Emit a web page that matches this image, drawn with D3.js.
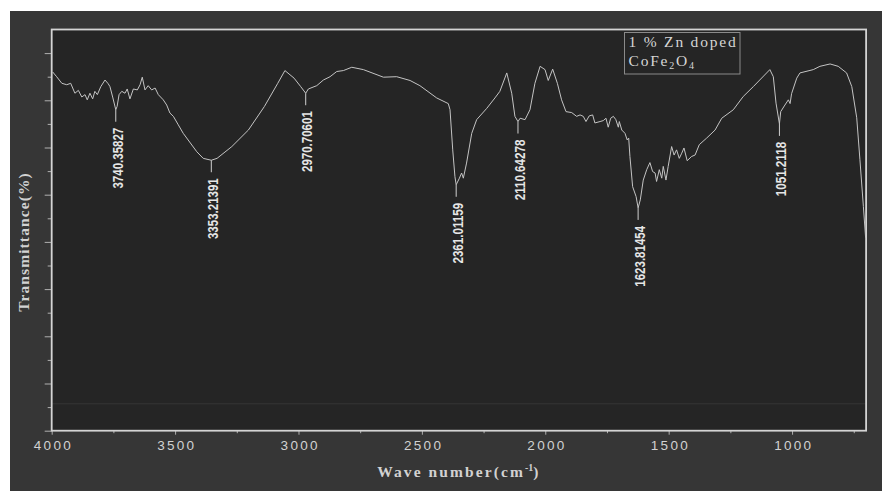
<!DOCTYPE html>
<html>
<head>
<meta charset="utf-8">
<script src="https://cdn.jsdelivr.net/npm/d3@7/dist/d3.min.js"></script>
<style>
    body { margin: 0; background: #ffffff; }
    svg { display: block; }
</style>
</head>
<body>
<div id="chartDiv"></div>
<script>

// FTIR spectrum, 1 % Zn doped CoFe2O4
var wavenumber = [3996, 3980, 3959, 3939, 3923, 3906, 3892, 3878, 3865, 3856, 3845, 3834, 3825, 3815, 3801, 3784,
    3771, 3764, 3752, 3740.36, 3735, 3727, 3716, 3703, 3694, 3683, 3669, 3653, 3642, 3633, 3622, 3609, 3595, 3581,
    3568, 3548, 3534, 3521, 3507, 3487, 3467, 3412, 3386, 3353.21, 3330, 3270, 3203, 3138, 3084, 3055, 3018, 2991,
    2970.71, 2960, 2926, 2899, 2872, 2845, 2818, 2784, 2737, 2656, 2602, 2548, 2508, 2440, 2393, 2386, 2375, 2366,
    2361.01, 2348, 2339, 2332, 2319, 2298, 2278, 2237, 2204, 2184, 2156, 2136, 2123, 2110.64, 2102, 2082, 2062, 2042,
    2021, 2001, 1988, 1970, 1951, 1934, 1916, 1893, 1873, 1859, 1846, 1835, 1822, 1808, 1799, 1778, 1765, 1754, 1745,
    1735, 1724, 1714, 1704, 1700, 1690, 1677, 1668, 1662, 1657, 1646, 1632, 1623.81, 1615, 1603, 1589, 1576, 1565,
    1555, 1549, 1538, 1528, 1522, 1511, 1502, 1488, 1478, 1468, 1457, 1447, 1438, 1425, 1407, 1393, 1376, 1346, 1312,
    1285, 1238, 1198, 1157, 1090, 1076, 1065, 1051.21, 1046, 1029, 1015, 1008, 1002, 981, 968, 914, 887, 846, 813,
    779, 758, 738, 725, 711, 702];

var transmittance = [76.0, 75.0, 73.6, 73.3, 73.6, 71.5, 72.1, 70.7, 71.2, 70.1, 71.5, 70.3, 71.9, 71.2, 72.9, 74.3,
    73.5, 72.9, 70.5, 68.0, 68.7, 71.2, 71.9, 71.5, 72.4, 70.3, 72.4, 72.2, 73.3, 74.9, 72.2, 73.1, 72.2, 72.6,
    71.2, 70.1, 69.0, 67.3, 66.6, 64.8, 63.0, 59.1, 57.7, 57.3, 57.7, 60.2, 63.7, 68.7, 73.6, 76.3, 74.7, 72.9,
    71.5, 72.4, 73.1, 74.3, 75.0, 76.1, 76.3, 77.0, 76.5, 74.9, 75.0, 74.2, 73.1, 70.5, 69.3, 68.0, 59.5, 53.8,
    52.1, 53.5, 54.6, 53.5, 56.7, 63.0, 65.9, 68.3, 70.5, 71.9, 75.8, 71.5, 66.6, 65.5, 66.2, 65.9, 68.0, 73.6,
    77.2, 76.5, 74.2, 76.6, 73.6, 70.1, 67.6, 67.4, 66.6, 66.9, 66.6, 65.5, 66.7, 66.9, 65.2, 65.5, 65.7, 66.2, 64.3,
    66.2, 66.6, 65.9, 64.3, 65.5, 63.7, 63.0, 61.6, 62.0, 58.1, 51.7, 49.6, 47.2, 48.9, 53.1, 55.3, 56.8, 54.9,
    54.6, 52.8, 55.3, 53.5, 56.0, 53.1, 56.0, 60.2, 58.4, 59.5, 57.7, 58.8, 59.9, 57.2, 58.1, 58.4, 60.6, 62.0, 63.7,
    66.2, 68.0, 70.8, 72.9, 76.5, 75.0, 69.4, 65.0, 67.6, 69.0, 70.1, 69.3, 71.4, 74.7, 75.8, 76.5, 77.2, 77.7, 77.2,
    75.8, 72.9, 66.3, 57.4, 47.5, 40.9];

var peakPositions = [3740.36, 3353.21, 2970.71, 2361.01, 2110.64, 1623.81, 1051.21];
var peakLabels = ["3740.35827", "3353.21391", "2970.70601", "2361.01159", "2110.64278", "1623.81454", "1051.2118"];

var xMajorTicks = [4000, 3500, 3000, 2500, 2000, 1500, 1000];
var xMinorTicks = [3750, 3250, 2750, 2250, 1750, 1250, 750];
var yMajorTicks = [0, 10, 20, 30, 40, 50, 60, 70, 80];
var yMinorTicks = [5, 15, 25, 35, 45, 55, 65, 75];
var baselineValue = 5.7;

var legendLines = ["1 % Zn doped", "CoFe2O4"];

var width = 882, height = 491;

var svg = d3.select("#chartDiv").append("svg")
    .attr("width", width)
    .attr("height", height);

// outer dark panel
svg.append("rect")
    .attr("x", 10)
    .attr("y", 11)
    .attr("width", width - 10)
    .attr("height", height - 11)
    .attr("fill", "#363636");

var plot = { left: 51.7, right: 866.1, top: 29.5, bottom: 430.7 };

var x = d3.scaleLinear()
    .domain([4000, 700])
    .range([plot.left, plot.right]);

var y = d3.scaleLinear()
    .domain([0, 85])
    .range([plot.bottom, plot.top]);

svg.append("rect")
    .attr("x", plot.left)
    .attr("y", plot.top)
    .attr("width", plot.right - plot.left)
    .attr("height", plot.bottom - plot.top)
    .attr("fill", "#252525");

// faint baseline
svg.append("line")
    .attr("x1", plot.left)
    .attr("x2", plot.right)
    .attr("y1", y(baselineValue))
    .attr("y2", y(baselineValue))
    .attr("stroke", "#363636")
    .attr("stroke-width", 1);

// x axis
var xAxis = d3.axisBottom(x)
    .tickValues(xMajorTicks)
    .tickSize(4)
    .tickPadding(6)
    .tickFormat(d3.format("d"));

var xAxisMinor = d3.axisBottom(x)
    .tickValues(xMinorTicks)
    .tickSize(2.5)
    .tickFormat("");

var gx = svg.append("g")
    .attr("class", "x axis")
    .attr("transform", "translate(0," + plot.bottom + ")")
    .call(xAxis);

svg.append("g")
    .attr("class", "x axis minor")
    .attr("transform", "translate(0," + plot.bottom + ")")
    .call(xAxisMinor);

gx.selectAll("text")
    .style("font-family", "'Liberation Sans', Arial, sans-serif")
    .style("font-size", "13.5px")
    .style("letter-spacing", "2.3px")
    .attr("fill", "#d2d2d2")
    .attr("dx", "1.2px");

// y axis (no labels)
var yAxis = d3.axisLeft(y)
    .tickValues(yMajorTicks)
    .tickSize(7)
    .tickFormat("");

var yAxisMinor = d3.axisLeft(y)
    .tickValues(yMinorTicks)
    .tickSize(4)
    .tickFormat("");

svg.append("g")
    .attr("class", "y axis")
    .attr("transform", "translate(" + plot.left + ",0)")
    .call(yAxis);

svg.append("g")
    .attr("class", "y axis minor")
    .attr("transform", "translate(" + plot.left + ",0)")
    .call(yAxisMinor);

svg.selectAll(".axis .tick line")
    .attr("stroke", "#b0b0b0");

svg.selectAll(".axis .domain")
    .remove();

// plot frame
svg.append("rect")
    .attr("x", plot.left)
    .attr("y", plot.top)
    .attr("width", plot.right - plot.left)
    .attr("height", plot.bottom - plot.top)
    .attr("fill", "none")
    .attr("stroke", "#d4d4d4")
    .attr("stroke-width", 1.8);

// spectrum
var spectrum = wavenumber.map(function (d, i) {
    return { w: d, t: transmittance[i] };
});

var line = d3.line()
    .x(function (d) { return x(d.w); })
    .y(function (d) { return y(d.t); });

svg.append("path")
    .datum(spectrum)
    .attr("d", line)
    .attr("fill", "none")
    .attr("stroke", "#c4c4c4")
    .attr("stroke-width", 1)
    .attr("stroke-linejoin", "round");

// peak markers
var peaks = peakPositions.map(function (p, i) {
    var idx = d3.minIndex(wavenumber, function (w) { return Math.abs(w - p); });
    return { w: p, t: transmittance[idx], label: peakLabels[i] };
});

var peakG = svg.selectAll(".peak")
    .data(peaks)
    .enter().append("g")
    .attr("class", "peak");

peakG.append("line")
    .attr("x1", function (d) { return x(d.w); })
    .attr("x2", function (d) { return x(d.w); })
    .attr("y1", function (d) { return y(d.t); })
    .attr("y2", function (d) { return y(d.t) + 12; })
    .attr("stroke", "#d0d0d0")
    .attr("stroke-width", 1);

// condensed label text: squeeze to the narrow width seen in the picture
peakG.append("text")
    .attr("transform", function (d) {
        return "translate(" + (x(d.w) + 1.5) + "," + (y(d.t) + 18) + ") rotate(-90)";
    })
    .attr("dy", "0.36em")
    .attr("textLength", function (d) {
        return d.label.replace(".", "").length * 6.4 + 3.2;
    })
    .attr("lengthAdjust", "spacingAndGlyphs")
    .style("text-anchor", "end")
    .style("font-family", "'Liberation Sans', Arial, sans-serif")
    .style("font-weight", "bold")
    .style("font-size", "14.5px")
    .attr("fill", "#e6e6e6")
    .text(function (d) { return d.label; });

// axis titles
var xTitle = svg.append("text")
    .attr("x", (plot.left + plot.right) / 2)
    .attr("y", 476.5)
    .style("text-anchor", "middle")
    .style("font-family", "'Liberation Serif', 'Times New Roman', serif")
    .style("font-weight", "bold")
    .style("font-size", "15.5px")
    .style("letter-spacing", "2.1px")
    .attr("fill", "#d2d2d2");

xTitle.append("tspan").text("Wave number(cm");
xTitle.append("tspan").attr("dy", -6).style("font-size", "10px").style("letter-spacing", "0px").text("-1");
xTitle.append("tspan").attr("dy", 6).text(")");

svg.append("text")
    .attr("transform", "translate(29," + 242 + ") rotate(-90)")
    .style("text-anchor", "middle")
    .style("font-family", "'Liberation Serif', 'Times New Roman', serif")
    .style("font-weight", "bold")
    .style("font-size", "15.5px")
    .style("letter-spacing", "1.1px")
    .attr("fill", "#d2d2d2")
    .text("Transmittance(%)");

// legend box
var legend = svg.append("g")
    .attr("class", "legend");

legend.append("rect")
    .attr("x", 624.5)
    .attr("y", 32.5)
    .attr("width", 115.5)
    .attr("height", 41.5)
    .attr("fill", "#252525")
    .attr("stroke", "#8a8a8a")
    .attr("stroke-width", 1);

legend.append("text")
    .attr("x", 628.5)
    .attr("y", 47)
    .style("font-family", "'Liberation Serif', 'Times New Roman', serif")
    .style("font-size", "15.5px")
    .style("letter-spacing", "1.8px")
    .attr("fill", "#d6d6d6")
    .text(legendLines[0]);

var formula = legend.append("text")
    .attr("x", 628.5)
    .attr("y", 66)
    .style("font-family", "'Liberation Serif', 'Times New Roman', serif")
    .style("font-size", "15.5px")
    .style("letter-spacing", "1.8px")
    .attr("fill", "#d6d6d6");

formula.append("tspan").text("CoFe");
formula.append("tspan").attr("dy", 3).style("font-size", "10px").text("2");
formula.append("tspan").attr("dy", -3).text("O");
formula.append("tspan").attr("dy", 3).style("font-size", "10px").text("4");

</script>
</body>
</html>
